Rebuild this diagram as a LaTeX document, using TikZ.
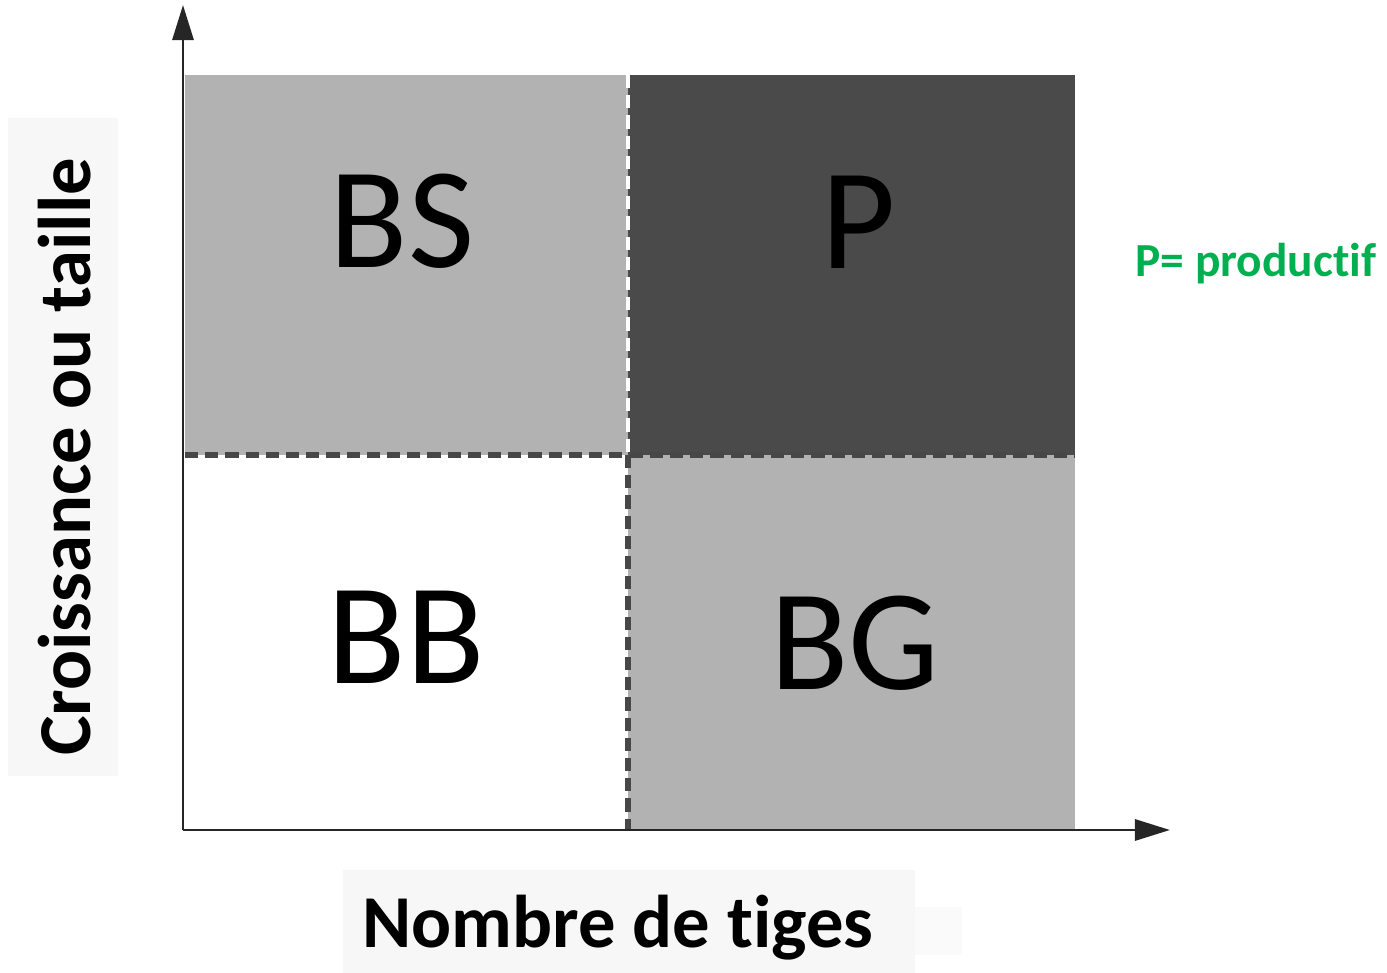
\documentclass[tikz,border=0pt]{standalone}
\usepackage{fontspec}
\setmainfont{Carlito}[RawFeature=-liga]
\usetikzlibrary{arrows.meta}

\definecolor{cellGray}{HTML}{B2B2B2}
\definecolor{cellDark}{HTML}{4A4A4A}
\definecolor{lineDark}{HTML}{474747}
\definecolor{labelBg}{HTML}{F7F7F7}
\definecolor{legendGreen}{HTML}{00B050}

\begin{document}
\begin{tikzpicture}[
    x=0.02cm, y=-0.02cm,
    letter/.style={font=\fontsize{82}{82}\selectfont, text=black, inner sep=0pt},
    axislabel/.style={font=\fontsize{42.5}{42.5}\selectfont\bfseries, text=black, inner sep=0pt},
    legend/.style={font=\fontsize{27}{27}\selectfont\bfseries, text=legendGreen, inner sep=0pt},
    axis/.style={-{Triangle[length=20pt,width=12pt]}, line width=1.7pt, black!85},
    divider/.style={line width=3.4pt, lineDark, dash pattern=on 7.5pt off 4pt},
    lightdivider/.style={line width=2.2pt, white, dash pattern=on 7.5pt off 4pt}
]
    \useasboundingbox (0,0) rectangle (1387,973);

    % label backgrounds
    \fill[labelBg] (8,118) rectangle (118,776);
    \fill[labelBg] (343,870) rectangle (915,973);
    \fill[labelBg!60!white] (915,907) rectangle (962,955);

    % quadrants
    \fill[cellGray] (185,75) rectangle (628,455);
    \fill[cellDark] (628,75) rectangle (1075,455);
    \fill[cellGray] (628,455) rectangle (1075,830);

    % dividers
    \coordinate (midLeft) at (185,455);
    \coordinate (midRight) at (1075,455);
    \coordinate (midTop) at (628,75);
    \coordinate (midCenter) at (628,455);
    \coordinate (midBottom) at (628,830);
    \draw[lightdivider] (midTop) -- (midCenter);
    \draw[divider] (midLeft) -- (midRight);
    \draw[divider] (midCenter) -- (midBottom);

    % axes
    \coordinate (origin) at (183,830);
    \coordinate (ytip) at (183,5);
    \coordinate (xtip) at (1170,830);
    \draw[axis] (origin) -- (ytip);
    \draw[axis] (origin) -- (xtip);

    % quadrant letters
    \node[letter] (bs) at (402,221) {BS};
    \node[letter] (p) at (859,222) {P};
    \node[letter] (bb) at (406,637) {BB};
    \node[letter] (bg) at (855,643) {BG};

    % axis labels
    \node[axislabel, anchor=base] (xlabel) at (618,947) {Nombre de tiges};
    \node[axislabel, anchor=base, rotate=90] (ylabel) at (91,457) {Croissance ou taille};

    \node[legend, anchor=base] (legendP) at (1256,277) {P= productif};
\end{tikzpicture}
\end{document}
